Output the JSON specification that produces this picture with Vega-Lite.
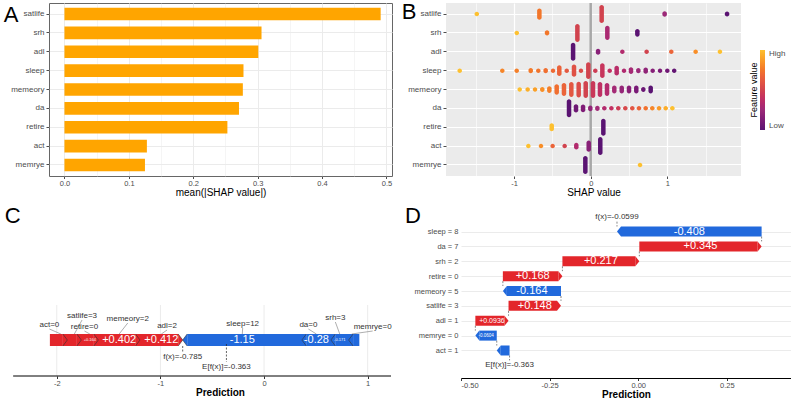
{
  "$schema": "https://vega.github.io/schema/vega-lite/v6.json",
  "padding": {"left": 3, "top": 0, "right": 0, "bottom": 0},
  "background": "white",
  "config": {
    "font": "Liberation Sans",
    "view": {"stroke": null},
    "axis": {"labelColor": "#4D4D4D", "labelFontSize": 7.5, "titleFontSize": 10, "titleFontWeight": "normal", "titleColor": "#000000", "tickColor": "#4D4D4D", "tickSize": 2.5, "labelPadding": 0.5, "titlePadding": 0.5},
    "title": {"fontSize": 22, "fontWeight": "normal", "anchor": "start", "frame": "bounds", "baseline": "top", "offset": -24, "color": "#000000"}
  },
  "datasets": {
    "importance": [
      {"feature": "satlife", "value": 0.491},
      {"feature": "srh", "value": 0.306},
      {"feature": "adl", "value": 0.301},
      {"feature": "sleep", "value": 0.278},
      {"feature": "memeory", "value": 0.277},
      {"feature": "da", "value": 0.271},
      {"feature": "retire", "value": 0.253},
      {"feature": "act", "value": 0.128},
      {"feature": "memrye", "value": 0.125}
    ],
    "beeswarm": [
      {"feature": "satlife", "shap": -1.487, "fv": 1, "n": 1},
      {"feature": "satlife", "shap": -0.67, "fv": 0.75, "n": 13},
      {"feature": "satlife", "shap": 0.143, "fv": 0.5, "n": 25},
      {"feature": "satlife", "shap": 0.965, "fv": 0.25, "n": 3},
      {"feature": "satlife", "shap": 1.78, "fv": 0, "n": 2},
      {"feature": "srh", "shap": -0.965, "fv": 1, "n": 1},
      {"feature": "srh", "shap": -0.57, "fv": 0.75, "n": 2},
      {"feature": "srh", "shap": -0.174, "fv": 0.5, "n": 25},
      {"feature": "srh", "shap": 0.217, "fv": 0.3, "n": 18},
      {"feature": "srh", "shap": 0.609, "fv": 0, "n": 7},
      {"feature": "adl", "shap": -0.23, "fv": 0, "n": 25},
      {"feature": "adl", "shap": 0.096, "fv": 0.17, "n": 4},
      {"feature": "adl", "shap": 0.413, "fv": 0.33, "n": 1},
      {"feature": "adl", "shap": 0.73, "fv": 0.5, "n": 1},
      {"feature": "adl", "shap": 1.052, "fv": 0.67, "n": 1},
      {"feature": "adl", "shap": 1.37, "fv": 0.83, "n": 1},
      {"feature": "adl", "shap": 1.687, "fv": 1, "n": 1},
      {"feature": "sleep", "shap": -1.71, "fv": 1, "n": 1},
      {"feature": "sleep", "shap": -1.154, "fv": 0.8, "n": 1},
      {"feature": "sleep", "shap": -0.966, "fv": 0.78, "n": 1},
      {"feature": "sleep", "shap": -0.783, "fv": 0.76, "n": 2},
      {"feature": "sleep", "shap": -0.684, "fv": 0.74, "n": 1},
      {"feature": "sleep", "shap": -0.588, "fv": 0.72, "n": 2},
      {"feature": "sleep", "shap": -0.492, "fv": 0.7, "n": 1},
      {"feature": "sleep", "shap": -0.41, "fv": 0.66, "n": 12},
      {"feature": "sleep", "shap": -0.313, "fv": 0.62, "n": 1},
      {"feature": "sleep", "shap": -0.218, "fv": 0.58, "n": 15},
      {"feature": "sleep", "shap": -0.127, "fv": 0.55, "n": 1},
      {"feature": "sleep", "shap": -0.031, "fv": 0.5, "n": 23},
      {"feature": "sleep", "shap": 0.06, "fv": 0.47, "n": 1},
      {"feature": "sleep", "shap": 0.152, "fv": 0.43, "n": 19},
      {"feature": "sleep", "shap": 0.248, "fv": 0.4, "n": 1},
      {"feature": "sleep", "shap": 0.339, "fv": 0.36, "n": 10},
      {"feature": "sleep", "shap": 0.435, "fv": 0.32, "n": 1},
      {"feature": "sleep", "shap": 0.526, "fv": 0.28, "n": 5},
      {"feature": "sleep", "shap": 0.622, "fv": 0.24, "n": 2},
      {"feature": "sleep", "shap": 0.718, "fv": 0.2, "n": 4},
      {"feature": "sleep", "shap": 0.809, "fv": 0.16, "n": 1},
      {"feature": "sleep", "shap": 0.905, "fv": 0.12, "n": 1},
      {"feature": "sleep", "shap": 1.0, "fv": 0.08, "n": 1},
      {"feature": "sleep", "shap": 1.09, "fv": 0.03, "n": 1},
      {"feature": "memeory", "shap": -0.927, "fv": 1, "n": 1},
      {"feature": "memeory", "shap": -0.823, "fv": 0.944, "n": 1},
      {"feature": "memeory", "shap": -0.727, "fv": 0.889, "n": 1},
      {"feature": "memeory", "shap": -0.632, "fv": 0.833, "n": 2},
      {"feature": "memeory", "shap": -0.54, "fv": 0.778, "n": 5},
      {"feature": "memeory", "shap": -0.444, "fv": 0.722, "n": 12},
      {"feature": "memeory", "shap": -0.349, "fv": 0.667, "n": 16},
      {"feature": "memeory", "shap": -0.253, "fv": 0.611, "n": 20},
      {"feature": "memeory", "shap": -0.157, "fv": 0.556, "n": 21},
      {"feature": "memeory", "shap": -0.065, "fv": 0.5, "n": 23},
      {"feature": "memeory", "shap": 0.03, "fv": 0.444, "n": 23},
      {"feature": "memeory", "shap": 0.121, "fv": 0.389, "n": 20},
      {"feature": "memeory", "shap": 0.213, "fv": 0.333, "n": 16},
      {"feature": "memeory", "shap": 0.308, "fv": 0.278, "n": 7},
      {"feature": "memeory", "shap": 0.405, "fv": 0.222, "n": 7},
      {"feature": "memeory", "shap": 0.5, "fv": 0.167, "n": 7},
      {"feature": "memeory", "shap": 0.595, "fv": 0.111, "n": 7},
      {"feature": "memeory", "shap": 0.687, "fv": 0.056, "n": 2},
      {"feature": "memeory", "shap": 0.783, "fv": 0, "n": 7},
      {"feature": "da", "shap": -0.283, "fv": 0, "n": 25},
      {"feature": "da", "shap": -0.192, "fv": 0.067, "n": 8},
      {"feature": "da", "shap": -0.1, "fv": 0.133, "n": 7},
      {"feature": "da", "shap": -0.005, "fv": 0.2, "n": 3},
      {"feature": "da", "shap": 0.087, "fv": 0.267, "n": 2},
      {"feature": "da", "shap": 0.178, "fv": 0.333, "n": 1},
      {"feature": "da", "shap": 0.27, "fv": 0.4, "n": 1},
      {"feature": "da", "shap": 0.36, "fv": 0.467, "n": 1},
      {"feature": "da", "shap": 0.452, "fv": 0.533, "n": 1},
      {"feature": "da", "shap": 0.543, "fv": 0.6, "n": 1},
      {"feature": "da", "shap": 0.63, "fv": 0.667, "n": 1},
      {"feature": "da", "shap": 0.718, "fv": 0.733, "n": 1},
      {"feature": "da", "shap": 0.804, "fv": 0.8, "n": 1},
      {"feature": "da", "shap": 0.892, "fv": 0.867, "n": 1},
      {"feature": "da", "shap": 0.979, "fv": 0.933, "n": 1},
      {"feature": "da", "shap": 1.066, "fv": 1, "n": 1},
      {"feature": "retire", "shap": -0.509, "fv": 1, "n": 7},
      {"feature": "retire", "shap": 0.165, "fv": 0, "n": 23},
      {"feature": "act", "shap": -0.814, "fv": 1, "n": 1},
      {"feature": "act", "shap": -0.649, "fv": 0.83, "n": 1},
      {"feature": "act", "shap": -0.497, "fv": 0.67, "n": 1},
      {"feature": "act", "shap": -0.34, "fv": 0.5, "n": 1},
      {"feature": "act", "shap": -0.188, "fv": 0.33, "n": 5},
      {"feature": "act", "shap": -0.026, "fv": 0.17, "n": 13},
      {"feature": "act", "shap": 0.125, "fv": 0, "n": 25},
      {"feature": "memrye", "shap": -0.07, "fv": 0, "n": 25},
      {"feature": "memrye", "shap": 0.644, "fv": 1, "n": 1}
    ],
    "force": [
      {"feature": "act=0", "shap": 0.125, "start": -2.023, "end": -1.898, "lx": -2.071, "ly": 1.5},
      {"feature": "satlife=3", "shap": 0.135, "start": -1.898, "end": -1.763, "lx": -1.756, "ly": 2.4},
      {"feature": "retire=0", "shap": 0.164, "start": -1.763, "end": -1.599, "lx": -1.733, "ly": 1.3},
      {"feature": "memeory=2", "shap": 0.402, "start": -1.599, "end": -1.197, "lx": -1.315, "ly": 2.1},
      {"feature": "adl=2", "shap": 0.412, "start": -1.197, "end": -0.785, "lx": -0.936, "ly": 1.4},
      {"feature": "sleep=12", "shap": -1.15, "start": 0.365, "end": -0.785, "lx": -0.206, "ly": 1.6},
      {"feature": "da=0", "shap": -0.28, "start": 0.645, "end": 0.365, "lx": 0.428, "ly": 1.5},
      {"feature": "srh=3", "shap": -0.171, "start": 0.816, "end": 0.645, "lx": 0.688, "ly": 2.2},
      {"feature": "memrye=0", "shap": -0.06, "start": 0.876, "end": 0.816, "lx": 1.048, "ly": 1.3}
    ],
    "force_refs": [
      {"label": "f(x)", "value": -0.785},
      {"label": "E[f(x)]", "value": -0.363}
    ],
    "waterfall": [
      {"feature": "sleep = 8", "shap": -0.408, "start": 0.3481, "end": -0.0599, "below": "da = 7"},
      {"feature": "da = 7", "shap": 0.345, "start": 0.0031, "end": 0.3481, "below": "srh = 2"},
      {"feature": "srh = 2", "shap": 0.217, "start": -0.2139, "end": 0.0031, "below": "retire = 0"},
      {"feature": "retire = 0", "shap": 0.168, "start": -0.3819, "end": -0.2139, "below": "memeory = 5"},
      {"feature": "memeory = 5", "shap": -0.164, "start": -0.2179, "end": -0.3819, "below": "satlife = 3"},
      {"feature": "satlife = 3", "shap": 0.148, "start": -0.3659, "end": -0.2179, "below": "adl = 1"},
      {"feature": "adl = 1", "shap": 0.0936, "start": -0.4595, "end": -0.3659, "below": "memrye = 0"},
      {"feature": "memrye = 0", "shap": -0.0604, "start": -0.3991, "end": -0.4595, "below": "act = 1"},
      {"feature": "act = 1", "shap": -0.0361, "start": -0.363, "end": -0.3991, "below": "E[f(x)]"}
    ],
    "waterfall_refs": [
      {"feature": "f(x)", "value": -0.0599, "below": "sleep = 8"},
      {"feature": "E[f(x)]", "value": -0.363, "below": null}
    ]
  },
  "spacing": 6,
  "resolve": {"scale": {"color": "independent", "size": "independent"}, "legend": {"color": "independent"}},
  "vconcat": [
    {
      "spacing": 8,
      "resolve": {"scale": {"color": "independent", "size": "independent"}, "legend": {"color": "independent"}},
      "hconcat": [
        {
          "title": {"text": "A", "dx": -7},
          "width": 343,
          "height": 173,
          "view": {"stroke": "#666666", "strokeWidth": 1},
          "data": {"name": "importance"},
          "mark": {"type": "bar", "fill": "#FFA500"},
          "encoding": {
            "y": {
              "field": "feature", "type": "nominal", "sort": null,
              "scale": {"paddingInner": 0.33, "paddingOuter": 0.25},
              "axis": {"title": null, "domain": false, "grid": true, "gridColor": "#EBEBEB", "gridWidth": 1, "bandPosition": 0.5, "labelPadding": 2, "tickSize": 3, "labelFontSize": 8}
            },
            "x": {
              "field": "value", "type": "quantitative",
              "scale": {"domain": [-0.024, 0.5086], "nice": false, "zero": false},
              "axis": {
                "title": "mean(|SHAP value|)",
                "values": [0, 0.05, 0.1, 0.15, 0.2, 0.25, 0.3, 0.35, 0.4, 0.45, 0.5],
                "labelExpr": "abs(datum.value * 10 - round(datum.value * 10)) < 0.001 ? format(datum.value, '.1f') : ''",
                "domain": false, "grid": true, "gridColor": "#EBEBEB",
                "gridWidth": {"condition": {"test": "abs(datum.value * 10 - round(datum.value * 10)) < 0.001", "value": 1}, "value": 0.5},
                "tickOpacity": {"condition": {"test": "abs(datum.value * 10 - round(datum.value * 10)) < 0.001", "value": 1}, "value": 0}
              }
            }
          }
        },
        {
          "title": {"text": "B", "dx": -6},
          "width": 295,
          "height": 173,
          "view": {"fill": "#EBEBEB", "stroke": null},
          "resolve": {"scale": {"y": "independent"}, "axis": {"y": "independent"}},
          "layer": [
            {
              "data": {"values": [{}]},
              "mark": {"type": "rule", "color": "#A8A8A8", "strokeWidth": 2.5},
              "encoding": {"x": {"datum": 0}}
            },
            {
              "data": {"name": "beeswarm"},
              "mark": {"type": "tick", "thickness": 4.5, "cornerRadius": 2.25, "opacity": 1},
              "encoding": {
                "x": {
                  "field": "shap", "type": "quantitative",
                  "scale": {"domain": [-1.889, 1.962], "nice": false, "zero": false},
                  "axis": {
                    "title": "SHAP value",
                    "values": [-1.5, -1, -0.5, 0, 0.5, 1, 1.5],
                    "labelExpr": "datum.value % 1 === 0 ? '' + datum.value : ''",
                    "domain": false, "grid": true, "gridColor": "#FFFFFF",
                    "gridWidth": {"condition": {"test": "datum.value % 1 === 0", "value": 1.2}, "value": 0.6},
                    "tickOpacity": {"condition": {"test": "datum.value % 1 === 0", "value": 1}, "value": 0}
                  }
                },
                "y": {
                  "field": "feature", "type": "nominal",
                  "scale": {"domain": ["satlife", "srh", "adl", "sleep", "memeory", "da", "retire", "act", "memrye"], "paddingInner": 0.33, "paddingOuter": 0.25},
                  "axis": {"title": null, "domain": false, "grid": true, "gridColor": "#FFFFFF", "gridWidth": 1.2, "bandPosition": 0.5, "labelPadding": 2, "tickSize": 3, "labelFontSize": 8}
                },
                "color": {
                  "field": "fv", "type": "quantitative",
                  "scale": {"domain": [0, 1], "range": ["#5A1372", "#9C2A78", "#D1434E", "#F2762A", "#FDC02F"]},
                  "legend": {
                    "title": null, "orient": "none", "legendX": 314, "legendY": 47,
                    "direction": "vertical", "values": [0, 1],
                    "labelExpr": "datum.value >= 1 ? 'High' : 'Low'",
                    "gradientLength": 80, "gradientThickness": 5, "gradientStrokeWidth": 0,
                    "labelFontSize": 8, "labelColor": "#4D4D4D", "labelOffset": 4
                  }
                },
                "size": {"field": "n", "type": "quantitative", "scale": {"domain": [1, 25], "range": [4.5, 18]}, "legend": null}
              }
            },
            {
              "data": {"values": [{}]},
              "mark": {"type": "point", "opacity": 0},
              "encoding": {
                "y": {
                  "datum": 0, "type": "quantitative",
                  "axis": {"orient": "right", "title": "Feature value", "titleAngle": 270, "titleFontSize": 9, "titlePadding": 17, "labels": false, "ticks": false, "domain": false, "grid": false}
                }
              }
            }
          ]
        }
      ]
    },
    {
      "spacing": 13,
      "hconcat": [
        {
          "title": {"text": "C", "dx": -8},
          "width": 342,
          "height": 172,
          "layer": [
            {
              "data": {"values": [{"tick": -2}, {"tick": -1}, {"tick": 0}, {"tick": 1}]},
              "mark": {"type": "rule", "color": "#EBEBEB", "strokeWidth": 1},
              "encoding": {
                "x": {
                  "field": "tick", "type": "quantitative",
                  "scale": {"domain": [-2.075, 1.225], "nice": false, "zero": false},
                  "axis": {
                    "title": "Prediction", "titleFontWeight": "bold", "values": [-2, -1, 0, 1],
                    "labelExpr": "'' + datum.value", "grid": false,
                    "domain": false, "tickColor": "#333333"
                  }
                },
                "y": {"datum": 3.5, "type": "quantitative", "scale": {"domain": [-3.6, 13.6], "nice": false, "zero": false}, "axis": null},
                "y2": {"datum": -3.6}
              }
            },
            {
              "data": {"values": [{}]},
              "mark": {"type": "rule", "color": "#000000", "strokeWidth": 1},
              "encoding": {
                "x": {"datum": -2.421, "type": "quantitative"},
                "x2": {"datum": 1.225},
                "y": {"datum": -3.6, "type": "quantitative", "axis": null}
              }
            },
            {
              "data": {"name": "force"},
              "transform": [{"calculate": "(datum.start + datum.end) / 2", "as": "mid"}],
              "mark": {"type": "rule", "color": "#777777", "strokeWidth": 0.6, "yOffset": 4},
              "encoding": {
                "x": {"field": "lx", "type": "quantitative"},
                "x2": {"field": "mid"},
                "y": {"field": "ly", "type": "quantitative", "axis": null},
                "y2": {"datum": 0.6}
              }
            },
            {
              "data": {"name": "force"},
              "transform": [{"filter": "datum.shap > 0"}],
              "mark": {"type": "bar", "color": "#E3262B", "xOffset": -4.5, "x2Offset": -4.5},
              "encoding": {
                "x": {"field": "start", "type": "quantitative"},
                "x2": {"field": "end"},
                "y": {"datum": 0.6, "type": "quantitative", "axis": null},
                "y2": {"datum": -0.6}
              }
            },
            {
              "data": {"name": "force"},
              "transform": [{"filter": "datum.shap < 0"}],
              "mark": {"type": "bar", "color": "#2169DC", "xOffset": 4.5, "x2Offset": 4.5},
              "encoding": {
                "x": {"field": "end", "type": "quantitative"},
                "x2": {"field": "start"},
                "y": {"datum": 0.6, "type": "quantitative", "axis": null},
                "y2": {"datum": -0.6}
              }
            },
            {
              "data": {"name": "force"},
              "transform": [{"filter": "datum.shap > 0"}],
              "mark": {"type": "point", "shape": "M -0.375 -1 L 0.375 0 L -0.375 1", "size": 144, "filled": true, "fill": "#E3262B", "stroke": "#333333", "strokeWidth": 0.6, "opacity": 1, "xOffset": -2.25},
              "encoding": {
                "x": {"field": "end", "type": "quantitative"},
                "y": {"datum": 0, "type": "quantitative", "axis": null}
              }
            },
            {
              "data": {"name": "force"},
              "transform": [{"filter": "datum.shap < 0"}],
              "mark": {"type": "point", "shape": "M 0.375 -1 L -0.375 0 L 0.375 1", "size": 144, "filled": true, "fill": "#2169DC", "stroke": "#333333", "strokeWidth": 0.6, "opacity": 1, "xOffset": 2.25},
              "encoding": {
                "x": {"field": "end", "type": "quantitative"},
                "y": {"datum": 0, "type": "quantitative", "axis": null}
              }
            },
            {
              "data": {"name": "force"},
              "transform": [
                {"filter": "abs(datum.shap) >= 0.25"},
                {"calculate": "(datum.start + datum.end) / 2", "as": "mid"},
                {"calculate": "replace(format(datum.shap, '+.3~g'), '\u2212', '-')", "as": "lab"}
              ],
              "mark": {"type": "text", "color": "#FFFFFF", "fontSize": 11, "baseline": "middle", "align": "center"},
              "encoding": {
                "x": {"field": "mid", "type": "quantitative"},
                "y": {"datum": 0, "type": "quantitative", "axis": null},
                "text": {"field": "lab"}
              }
            },
            {
              "data": {"name": "force"},
              "transform": [
                {"filter": "abs(datum.shap) > 0.15 && abs(datum.shap) < 0.25"},
                {"calculate": "(datum.start + datum.end) / 2", "as": "mid"},
                {"calculate": "replace(format(datum.shap, '+.3~g'), '\u2212', '-')", "as": "lab"}
              ],
              "mark": {"type": "text", "color": "#FFFFFF", "fontSize": 4, "baseline": "middle", "align": "center"},
              "encoding": {
                "x": {"field": "mid", "type": "quantitative"},
                "y": {"datum": 0, "type": "quantitative", "axis": null},
                "text": {"field": "lab"}
              }
            },
            {
              "data": {"name": "force"},
              "mark": {"type": "text", "color": "#333333", "fontSize": 8, "baseline": "middle", "align": "center"},
              "encoding": {
                "x": {"field": "lx", "type": "quantitative"},
                "y": {"field": "ly", "type": "quantitative", "axis": null},
                "text": {"field": "feature"}
              }
            },
            {
              "data": {"name": "force_refs"},
              "transform": [{"filter": "datum.label === 'f(x)'"}],
              "mark": {"type": "rule", "color": "#222222", "strokeWidth": 0.7, "strokeDash": [2, 1.5]},
              "encoding": {
                "x": {"field": "value", "type": "quantitative"},
                "y": {"datum": -0.6, "type": "quantitative", "axis": null},
                "y2": {"datum": -1.15}
              }
            },
            {
              "data": {"name": "force_refs"},
              "transform": [{"filter": "datum.label === 'E[f(x)]'"}],
              "mark": {"type": "rule", "color": "#222222", "strokeWidth": 0.7, "strokeDash": [2, 1.5]},
              "encoding": {
                "x": {"field": "value", "type": "quantitative"},
                "y": {"datum": -0.4, "type": "quantitative", "axis": null},
                "y2": {"datum": -2.2}
              }
            },
            {
              "data": {"name": "force_refs"},
              "transform": [{"filter": "datum.label === 'f(x)'"}, {"calculate": "datum.label + '=' + datum.value", "as": "txt"}],
              "mark": {"type": "text", "color": "#333333", "fontSize": 8, "baseline": "middle", "align": "center"},
              "encoding": {
                "x": {"field": "value", "type": "quantitative"},
                "y": {"datum": -1.7, "type": "quantitative", "axis": null},
                "text": {"field": "txt"}
              }
            },
            {
              "data": {"name": "force_refs"},
              "transform": [{"filter": "datum.label === 'E[f(x)]'"}, {"calculate": "datum.label + '=' + datum.value", "as": "txt"}],
              "mark": {"type": "text", "color": "#333333", "fontSize": 8, "baseline": "middle", "align": "center"},
              "encoding": {
                "x": {"field": "value", "type": "quantitative"},
                "y": {"datum": -2.7, "type": "quantitative", "axis": null},
                "text": {"field": "txt"}
              }
            }
          ]
        },
        {
          "title": {"text": "D", "dx": -9},
          "width": 330,
          "height": 174,
          "layer": [
            {
              "data": {"name": "waterfall"},
              "mark": {"type": "rule", "color": "#333333", "strokeWidth": 0.6, "strokeDash": [2, 1.5], "yOffset": 5, "y2Offset": -5},
              "encoding": {
                "x": {
                  "field": "start", "type": "quantitative",
                  "scale": {"domain": [-0.5, 0.431], "nice": false, "zero": false},
                  "axis": {
                    "title": "Prediction", "titleFontWeight": "bold", "values": [-0.5, -0.25, 0, 0.25],
                    "labelExpr": "replace(format(datum.value, '.2f'), '\u2212', '-')", "grid": false,
                    "domain": true, "domainColor": "#000000", "domainWidth": 1, "tickColor": "#333333"
                  }
                },
                "y": {
                  "field": "feature", "type": "ordinal",
                  "scale": {"type": "point", "padding": 0.85, "domain": ["f(x)", "sleep = 8", "da = 7", "srh = 2", "retire = 0", "memeory = 5", "satlife = 3", "adl = 1", "memrye = 0", "act = 1", "E[f(x)]"]},
                  "axis": {
                    "title": null, "domain": false, "ticks": false, "labelPadding": 3, "labelFontSize": 7.5,
                    "values": ["sleep = 8", "da = 7", "srh = 2", "retire = 0", "memeory = 5", "satlife = 3", "adl = 1", "memrye = 0", "act = 1"],
                    "grid": true, "gridColor": "#EBEBEB", "gridWidth": 1
                  }
                },
                "y2": {"field": "below"}
              }
            },
            {
              "data": {"name": "waterfall_refs"},
              "transform": [{"filter": "datum.below != null"}],
              "mark": {"type": "rule", "color": "#333333", "strokeWidth": 0.6, "strokeDash": [2, 1.5], "yOffset": 5, "y2Offset": -5},
              "encoding": {
                "x": {"field": "value", "type": "quantitative"},
                "y": {"field": "feature", "type": "ordinal"},
                "y2": {"field": "below"}
              }
            },
            {
              "data": {"name": "waterfall"},
              "transform": [{"filter": "datum.shap > 0"}],
              "mark": {"type": "bar", "color": "#E3262B", "size": 10, "x2Offset": -4},
              "encoding": {
                "x": {"field": "start", "type": "quantitative"},
                "x2": {"field": "end"},
                "y": {"field": "feature", "type": "ordinal"}
              }
            },
            {
              "data": {"name": "waterfall"},
              "transform": [{"filter": "datum.shap < 0"}],
              "mark": {"type": "bar", "color": "#2169DC", "size": 10, "xOffset": 4},
              "encoding": {
                "x": {"field": "end", "type": "quantitative"},
                "x2": {"field": "start"},
                "y": {"field": "feature", "type": "ordinal"}
              }
            },
            {
              "data": {"name": "waterfall"},
              "transform": [{"filter": "datum.shap > 0"}],
              "mark": {"type": "point", "shape": "M -0.4 -1 L 0.4 0 L -0.4 1 Z", "size": 100, "filled": true, "fill": "#E3262B", "strokeWidth": 0, "opacity": 1, "xOffset": -2},
              "encoding": {
                "x": {"field": "end", "type": "quantitative"},
                "y": {"field": "feature", "type": "ordinal"}
              }
            },
            {
              "data": {"name": "waterfall"},
              "transform": [{"filter": "datum.shap < 0"}],
              "mark": {"type": "point", "shape": "M 0.4 -1 L -0.4 0 L 0.4 1 Z", "size": 100, "filled": true, "fill": "#2169DC", "strokeWidth": 0, "opacity": 1, "xOffset": 2},
              "encoding": {
                "x": {"field": "end", "type": "quantitative"},
                "y": {"field": "feature", "type": "ordinal"}
              }
            },
            {
              "data": {"name": "waterfall"},
              "transform": [
                {"filter": "abs(datum.shap) >= 0.12"},
                {"calculate": "(datum.start + datum.end) / 2", "as": "mid"},
                {"calculate": "replace(format(datum.shap, '+.3~g'), '\u2212', '-')", "as": "lab"}
              ],
              "mark": {"type": "text", "color": "#FFFFFF", "fontSize": 11, "baseline": "middle", "align": "center"},
              "encoding": {
                "x": {"field": "mid", "type": "quantitative"},
                "y": {"field": "feature", "type": "ordinal"},
                "text": {"field": "lab"}
              }
            },
            {
              "data": {"name": "waterfall"},
              "transform": [
                {"filter": "abs(datum.shap) >= 0.08 && abs(datum.shap) < 0.12"},
                {"calculate": "(datum.start + datum.end) / 2", "as": "mid"},
                {"calculate": "replace(format(datum.shap, '+.3~g'), '\u2212', '-')", "as": "lab"}
              ],
              "mark": {"type": "text", "color": "#FFFFFF", "fontSize": 7, "baseline": "middle", "align": "center"},
              "encoding": {
                "x": {"field": "mid", "type": "quantitative"},
                "y": {"field": "feature", "type": "ordinal"},
                "text": {"field": "lab"}
              }
            },
            {
              "data": {"name": "waterfall"},
              "transform": [
                {"filter": "abs(datum.shap) >= 0.05 && abs(datum.shap) < 0.08"},
                {"calculate": "(datum.start + datum.end) / 2", "as": "mid"},
                {"calculate": "replace(format(datum.shap, '+.3~g'), '\u2212', '-')", "as": "lab"}
              ],
              "mark": {"type": "text", "color": "#FFFFFF", "fontSize": 4.5, "baseline": "middle", "align": "center"},
              "encoding": {
                "x": {"field": "mid", "type": "quantitative"},
                "y": {"field": "feature", "type": "ordinal"},
                "text": {"field": "lab"}
              }
            },
            {
              "data": {"name": "waterfall_refs"},
              "transform": [{"calculate": "datum.feature + '=' + datum.value", "as": "txt"}],
              "mark": {"type": "text", "color": "#333333", "fontSize": 8, "baseline": "middle", "align": "center"},
              "encoding": {
                "x": {"field": "value", "type": "quantitative"},
                "y": {"field": "feature", "type": "ordinal"},
                "text": {"field": "txt"}
              }
            }
          ]
        }
      ]
    }
  ]
}
